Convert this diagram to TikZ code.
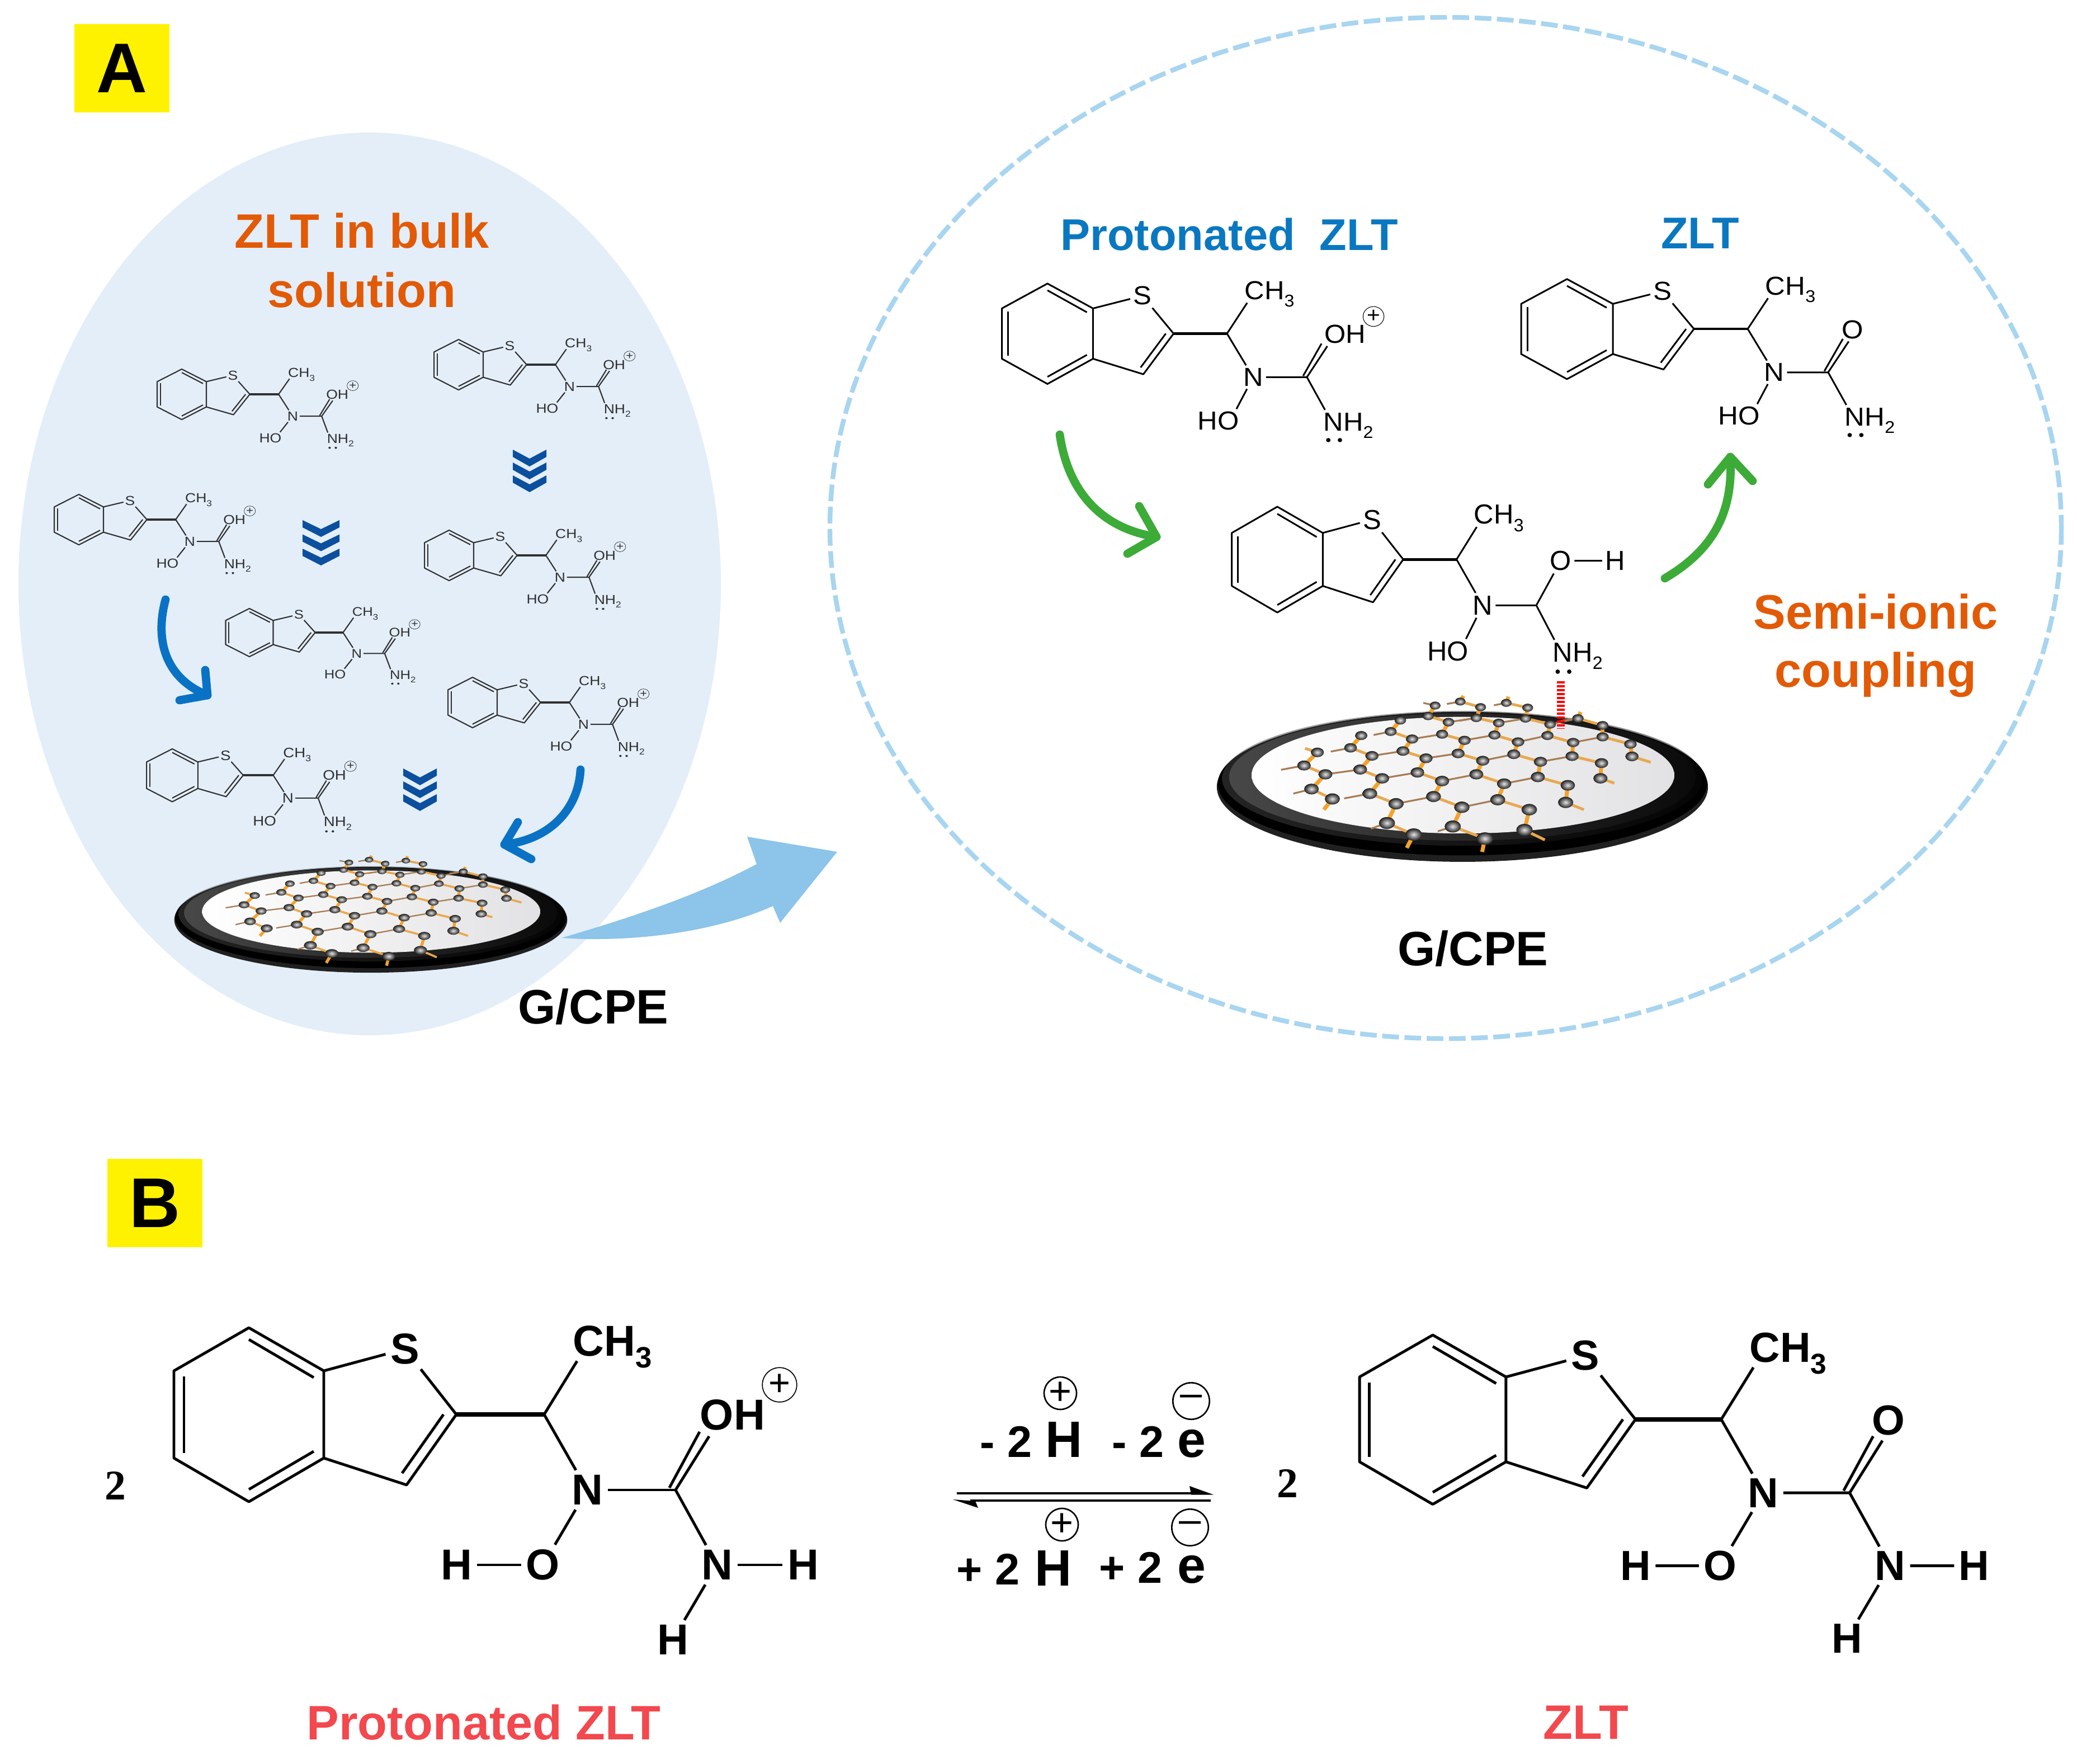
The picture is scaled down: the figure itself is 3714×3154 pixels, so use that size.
\documentclass[tikz,border=0pt]{standalone}
\usepackage{fontspec}
\setmainfont{Liberation Sans}
\newfontfamily\serifnum{Liberation Serif}
\usetikzlibrary{calc,shadings}
\definecolor{ballhi}{HTML}{E4E4E4}
\definecolor{ballout}{HTML}{1E1E1E}
\definecolor{bgblue}{HTML}{E3EEF9}
\definecolor{dashblue}{HTML}{A8D5F0}
\definecolor{bigarrow}{HTML}{8CC4EA}
\definecolor{curveblue}{HTML}{0A72C4}
\definecolor{chevblue}{HTML}{0B4F9E}
\definecolor{curvegreen}{HTML}{3CAB38}
\definecolor{orangetxt}{HTML}{E25A06}
\definecolor{bluetxt}{HTML}{0A78C0}
\definecolor{redtxt}{HTML}{F2484E}
\definecolor{molgray}{HTML}{303030}
\definecolor{gorange}{HTML}{F4A22E}
\definecolor{gtan}{HTML}{E8A850}
\definecolor{gbrown}{HTML}{A87C52}
\definecolor{rimgray}{HTML}{484848}
\definecolor{rimmid}{HTML}{303030}
\definecolor{rimright}{HTML}{0A0A0A}
\definecolor{rimlow}{HTML}{202020}
\definecolor{discgray}{HTML}{E2E1E3}
\tikzset{
  atom/.style={atomfont,transform shape,inner sep=0pt,outer sep=2.5pt},
  molbig/.style={line width=1.4pt,color=black,
    atomfont/.style={font=\fontsize{22}{24}\selectfont\bfseries}},
  molmed/.style={line width=.85pt,color=black,
    atomfont/.style={font=\fontsize{23}{25}\selectfont}},
  molsmall/.style={line width=.6pt,color=molgray,
    atomfont/.style={font=\fontsize{23}{25}\selectfont}},
  heavy/.style={line width=1.25\pgflinewidth},
  chargeplus/.style={circle,draw,minimum size=17.5pt,inner sep=0pt,outer sep=0pt,
    line width=.7\pgflinewidth,font=\fontsize{19}{19}\selectfont\mdseries},
  labelbox/.style={fill=yellow,minimum width=48.4pt,minimum height=45.2pt,inner sep=0pt,
    font=\fontsize{35.8}{38}\selectfont\bfseries},
  title/.style={font=\fontsize{24.6}{28}\selectfont\bfseries,inner sep=0pt},
  eqnum/.style={font=\fontsize{22.5}{24}\selectfont\bfseries,inner sep=0pt,anchor=base},
  eqbig/.style={font=\fontsize{26}{28}\selectfont\bfseries,inner sep=0pt,anchor=base},
  eqcharge/.style={circle,draw,line width=.75pt,inner sep=0pt,
    font=\fontsize{20}{20}\selectfont},
  coef/.style={font=\fontsize{21.5}{24}\selectfont\serifnum\bfseries,inner sep=0pt,anchor=base},
  bluecurve/.style={draw=curveblue,line width=4.2pt,line cap=round,line join=round},
  greencurve/.style={draw=curvegreen,line width=4.2pt,line cap=round,line join=round},
}
\newcommand{\subn}[1]{\smash{\raisebox{-.28em}{\fontsize{15}{15}\selectfont #1}}}
% benzothiophene + CH(CH3) + N + C skeleton, in the units of the large molecule
\newcommand{\skeleton}{%
  \coordinate (T) at (0,0);
  \coordinate (UR) at (134,77);
  \coordinate (LR) at (134,233);
  \coordinate (Bt) at (0,311);
  \coordinate (LL) at (-134,233);
  \coordinate (UL) at (-134,77);
  \coordinate (C2) at (371,155);
  \coordinate (C3) at (282,281);
  \coordinate (CH) at (528,155);
  \coordinate (C) at (763,290);
  \coordinate (ia1) at (0,21);
  \coordinate (ia2) at (116,89);
  \coordinate (ib1) at (-116,87);
  \coordinate (ib2) at (-116,224);
  \coordinate (ic1) at (0,289);
  \coordinate (ic2) at (116,221);
  \coordinate (id1) at (348,155);
  \coordinate (id2) at (274,260);
  \node (S) at (279,38) {S};
  \node[anchor=base west] (Me) at (571,50) {CH\subn{3}};
  \node (N) at (605,290) {N};
  \draw[line join=round] (T)--(UR)--(LR)--(Bt)--(LL)--(UL)--cycle;
  \draw (UR)--(S);
  \draw[line join=round] (S)--(C2)--(C3)--(LR);
  \draw[heavy] (C2)--(CH);
  \draw (CH)--($(Me.south west)!.1!(Me.south east)$);
  \draw (CH)--(N);
  \draw (N)--(C);
  \draw (ia1)--(ia2);
  \draw (ib1)--(ib2);
  \draw (ic1)--(ic2);
  \draw (id1)--(id2);
}
\newcommand{\cdouble}{%
  \coordinate (Oe) at (823,194);
  \coordinate (Ci) at (752,286);
  \coordinate (Oi) at (806,186);
  \draw (C)--(Oe);
  \draw (Ci)--(Oi);
}
\newcommand{\oxoOHplus}[1]{%
  \cdouble
  \node (OH) at (870+#1,156) {OH};
  \node[chargeplus] (chg) at (954+#1,102) {+};
}
\newcommand{\oxoO}{%
  \cdouble
  \node (Ox) at (834,157) {O};
}
\newcommand{\oxoOH}{%
  \node (Ox) at (835,159) {O};
  \node (Hx) at (995,159) {H};
  \draw (C)--(Ox);
  \draw (Ox)--(Hx);
}
\newcommand{\tailcompact}[1]{%
  \node (HO) at (503+#1,426) {HO};
  \node (NH) at (885+#1,428) {NH\subn{2}};
  \coordinate (da) at (826+#1,485);
  \coordinate (db) at (860+#1,485);
  \draw (N)--($(HO.north east)!.12!(HO.north west)$);
  \draw (C)--($(NH.north west)!.08!(NH.north east)$);
  \fill (da) circle [radius=6.5];
  \fill (db) circle [radius=6.5];
}
\newcommand{\tailfull}{%
  \node (O) at (526,424) {O};
  \node (H1) at (371,424) {H};
  \node (N2) at (837,424) {N};
  \node (H2) at (991,424) {H};
  \node (H3) at (758,558) {H};
  \draw (N)--(O);
  \draw (O)--(H1);
  \draw (C)--(N2);
  \draw (N2)--(H2);
  \draw (N2)--(H3);
}
\newcommand{\mol}[7]{%
  \begin{scope}[shift={(#2,#3)},xscale=#4,yscale=#5,name prefix=#1-,#6,every node/.style={atom}]
    \skeleton #7
  \end{scope}}
\newcommand{\chevrons}[5]{% name, cx, top, half width, spacing
  \foreach \i in {0,1,2}{
    \fill[chevblue,shift={(#2,#3+\i*#5)}] (-#4,0) -- (0,16) -- (#4,0) -- (#4,13) -- (0,30) -- (-#4,13) -- cycle;
  }}
\newcommand{\atomlist}{1/905/858,2/952/843,3/990/864,4/1038/848,5/1078/866,
  6/892/897,7/930/920,8/982/904,9/1024/923,10/1074/906,11/1120/928,12/1172/906,13/1218/932,
  14/840/913,15/822/955,16/918/965,17/960/988,18/1016/968,19/1060/994,20/1115/970,21/1163/996,22/1218/975,23/1270/1002,
  24/767/970,25/747/1016,26/862/983,27/845/1028,28/888/1055,29/948/1037,30/994/1064,31/1052/1040,32/1102/1068,33/1161/1047,34/1216/1073,35/1273/1048,
  36/685/1033,37/660/1082,38/787/1046,39/765/1097,40/700/1115,41/806/1130,42/872/1108,43/918/1140,44/982/1115,45/1034/1150,46/1097/1125,47/1153/1156,48/1214/1130,
  49/674/1170,50/713/1207,51/783/1187,52/832/1225,53/902/1198,54/955/1238,55/1022/1210,56/1081/1247,57/1149/1220,
  58/815/1297,59/865/1340,60/938/1310,61/998/1355,62/1072/1323}
\newcommand{\stublist}{101/883/848,102/927/852,103/958/822,104/1015/857,105/1042/825,106/950/915,107/1140/915,108/1177/882,
  109/1308/1070,110/1240/1148,111/1183/1247,112/1110/1360,113/993/1405,114/852/1390,115/910/1328,116/785/1318,
  117/697/1247,118/735/1205,119/640/1187,120/617/1098,121/662/1018,122/710/1030,123/790/968}
\newcommand{\steeplist}{1/6,3/8,5/10,7/16,9/18,11/20,13/22,14/15,26/27,17/29,19/31,21/33,23/35,24/25,38/39,28/42,30/44,32/46,34/48,36/37,
  40/49,41/51,43/53,45/55,47/57,52/58,54/60,56/62,59/114,61/113,50/117,2/103,4/105,12/108}
\newcommand{\downlist}{2/3,4/5,6/7,8/9,10/11,12/13,15/26,16/17,18/19,20/21,22/23,25/38,27/28,29/30,31/32,33/34,37/40,39/41,42/43,44/45,46/47,49/50,51/52,53/54,55/56,58/59,60/61,
  62/112,36/121,35/109,48/110,57/111}
\newcommand{\brownlist}{7/8,9/10,11/12,26/16,17/18,19/20,21/22,38/27,28/29,30/31,32/33,40/39,41/42,43/44,45/46,52/53,54/55,
  1/101,2/102,4/104,8/106,12/107,60/115,58/116,51/118,49/119,37/120,25/122,15/123}
\newcommand{\gcpe}[8]{% prefix, cx, cy, sx, sy, steep width, down-right width, up-right width
  \begin{scope}[shift={(#2,#3)},xscale=#4/1.045,yscale=#5/2.09,shift={(-956,-1160)},name prefix=#1-]
    \fill[rimlow] (956,1162) ellipse [x radius=459,y radius=280];
    \fill[black] (956,1150) ellipse [x radius=457,y radius=268];
    \shade[left color=rimgray,middle color=rimmid,right color=rimright,opacity=.5] (956,1130) ellipse [x radius=449,y radius=252];
    \shade[left color=rimgray,middle color=rimmid,right color=rimright] (956,1125) ellipse [x radius=436,y radius=238];
    \shade[left color=white,middle color=white,right color=discgray] (957,1118) ellipse [x radius=395,y radius=218];
    \foreach \n/\x/\y in \atomlist { \coordinate (g\n) at (\x,\y); }
    \foreach \n/\x/\y in \stublist { \coordinate (g\n) at (\x,\y); }
    \foreach \a/\b in \brownlist { \draw[gbrown,line width=#8] (g\a)--(g\b); }
    \foreach \a/\b in \downlist { \draw[gtan,line width=#7] (g\a)--(g\b); }
    \foreach \a/\b in \steeplist { \draw[gorange,line width=#6] (g\a)--(g\b); }
    \foreach \n/\x/\y in \atomlist {
      \pgfmathsetmacro\rr{0.8+(\y-850)/500*0.45}
      \shade[inner color=ballhi,outer color=ballout] (g\n) ellipse [x radius=12.5*\rr,y radius=18.5*\rr];
    }
  \end{scope}}
\begin{document}
\begin{tikzpicture}[x=0.01cm,y=-0.01cm]
\useasboundingbox (0,0) rectangle (3714,3154);
\fill[white] (0,0) rectangle (3714,3154);

% ---------- backgrounds
\fill[bgblue] (661,1044) ellipse [x radius=628,y radius=807];
\draw[dashblue,line width=2.4pt,dash pattern=on 8.5pt off 2.8pt] (2585,944) ellipse [x radius=1101,y radius=913];

% ---------- labels
\node[labelbox] (labelA) at (218,122) {A};
\node[labelbox] (labelB) at (277,2151) {B};
\node[title,text=orangetxt] (bulk1) at (647,413) {ZLT in bulk};
\node[title,text=orangetxt] (bulk2) at (647,519) {solution};
\node[title,text=bluetxt,font=\fontsize{22.6}{26}\selectfont\bfseries] (protA) at (2198,419) {Protonated\ \ ZLT};
\node[title,text=bluetxt,font=\fontsize{22.6}{26}\selectfont\bfseries] (zltA) at (3040,417) {ZLT};
\node[title,text=orangetxt] (semi1) at (3354,1094) {Semi-ionic};
\node[title,text=orangetxt] (semi2) at (3354,1206) {coupling};
\node[title] (gcpeL) at (1061,1800) {G/CPE};
\node[title] (gcpeR) at (2634,1696) {G/CPE};
\node[title,text=redtxt] (protB) at (865,3080) {Protonated ZLT};
\node[title,text=redtxt] (zltB) at (2836,3080) {ZLT};

% ---------- small molecules in the bulk solution
\mol{m1}{325}{660}{.328}{.29}{molsmall}{\oxoOHplus{-22}\tailcompact{-20}}
\mol{m2}{820}{607}{.328}{.29}{molsmall}{\oxoOHplus{-22}\tailcompact{-20}}
\mol{m3}{141}{884}{.328}{.29}{molsmall}{\oxoOHplus{-22}\tailcompact{-20}}
\mol{m4}{803}{948}{.328}{.29}{molsmall}{\oxoOHplus{-22}\tailcompact{-20}}
\mol{m5}{446}{1088}{.317}{.277}{molsmall}{\oxoOHplus{-22}\tailcompact{-20}}
\mol{m6}{845}{1211}{.328}{.29}{molsmall}{\oxoOHplus{-22}\tailcompact{-20}}
\mol{m7}{308}{1339}{.342}{.304}{molsmall}{\oxoOHplus{-22}\tailcompact{-20}}

% ---------- chevrons
\chevrons{c1}{947}{804}{30}{23}
\chevrons{c2}{574}{930}{33}{25.5}
\chevrons{c3}{751}{1374}{30}{23}

% ---------- curved blue arrows
\coordinate (ba1s) at (296,1072);
\coordinate (ba1t) at (371,1243);
\coordinate (ba1u) at (367,1198);
\coordinate (ba1v) at (321,1252);
\draw[bluecurve] (ba1s) .. controls (275,1150) and (300,1215) .. (ba1t);
\draw[bluecurve] (ba1u) -- (ba1t) -- (ba1v);
\coordinate (ba2s) at (1038,1376);
\coordinate (ba2t) at (902,1510);
\coordinate (ba2u) at (926,1470);
\coordinate (ba2v) at (950,1536);
\draw[bluecurve] (ba2s) .. controls (1035,1440) and (990,1500) .. (ba2t);
\draw[bluecurve] (ba2u) -- (ba2t) -- (ba2v);

% ---------- big arrow between panels
\coordinate (bigtail) at (1004,1677);
\coordinate (bigtip) at (1497,1523);
\fill[bigarrow] (bigtail) .. controls (1130,1640) and (1250,1600) .. (1353,1545)
  -- (1336,1496) -- (bigtip) -- (1395,1650) -- (1382,1620)
  .. controls (1270,1670) and (1120,1685) .. cycle;

% ---------- electrodes
\gcpe{L}{663}{1644}{.8}{.705}{1.5pt}{1.05pt}{.65pt}
\gcpe{R}{2615}{1406}{1}{1}{2pt}{1.4pt}{.9pt}

% ---------- molecules of the right panel
\mol{pA}{1873}{507}{.608}{.577}{molmed}{\oxoOHplus{5}\tailcompact{0}}
\mol{zA}{2802}{499}{.612}{.575}{molmed}{\oxoO\tailcompact{0}}
\mol{mA}{2284}{906}{.607}{.608}{molmed}{\oxoOH\tailcompact{0}}
\coordinate (redA) at (2791,1218);
\coordinate (redB) at (2791,1303);
\draw[red,line width=4pt,dash pattern=on 1.1pt off .9pt] (redA) -- (redB);

% ---------- curved green arrows
\coordinate (ga1s) at (1895,777);
\coordinate (ga1t) at (2068,960);
\coordinate (ga1u) at (2037,905);
\coordinate (ga1v) at (2016,990);
\draw[greencurve] (ga1s) .. controls (1910,880) and (1970,945) .. (ga1t);
\draw[greencurve] (ga1u) -- (ga1t) -- (ga1v);
\coordinate (ga2s) at (2977,1034);
\coordinate (ga2t) at (3094,817);
\coordinate (ga2u) at (3054,866);
\coordinate (ga2v) at (3134,860);
\draw[greencurve] (ga2s) .. controls (3060,985) and (3100,920) .. (ga2t);
\draw[greencurve] (ga2u) -- (ga2t) -- (ga2v);

% ---------- panel B
\node[coef] (two1) at (206,2681) {2};
\node[coef] (two2) at (2302,2677) {2};
\mol{pB}{445}{2374}{1}{1}{molbig}{\oxoOHplus{-5}\tailfull}
\mol{zB}{2562}{2387}{.977}{.973}{molbig}{\oxoO\tailfull}

\node[eqnum] (mh) at (1799,2605) {- 2};
\node[eqbig] (hm) at (1902,2605) {H};
\node[eqnum] (me) at (2035,2605) {- 2};
\node[eqbig] (em) at (2131,2605) {e};
\node[eqnum] (ph) at (1767,2833) {+ 2};
\node[eqbig] (hp) at (1883,2835) {H};
\node[eqnum] (pe) at (2022,2830) {+ 2};
\node[eqbig] (ep) at (2131,2830) {e};
\node[eqcharge,minimum size=16.5pt] (c1) at (1896,2491) {+};
\node[eqcharge,minimum size=18.6pt] (c2) at (2130,2505) {\raisebox{.02em}{–}};
\node[eqcharge,minimum size=16.5pt] (c3) at (1899,2726) {+};
\node[eqcharge,minimum size=18.6pt] (c4) at (2128,2731) {\raisebox{.02em}{–}};

\coordinate (eqa) at (1711,2670);
\coordinate (eqb) at (2140,2670);
\coordinate (eqc) at (2165,2683);
\coordinate (eqd) at (1735,2683);
\draw[black,line width=1.35pt] (eqa) -- (eqb);
\draw[black,line width=1.35pt] (eqc) -- (eqd);
\fill[black] (2127,2657) -- (2170,2672.5) -- (2130,2672.5) -- cycle;
\fill[black] (1704,2681) -- (1749,2696) -- (1744,2684) -- cycle;
\end{tikzpicture}
\end{document}
